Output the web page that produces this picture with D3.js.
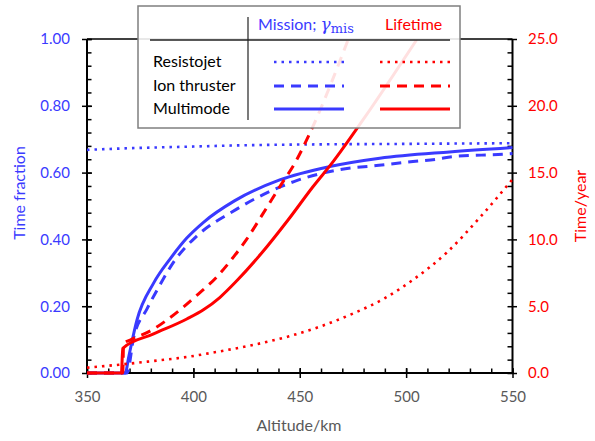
<!DOCTYPE html>
<html><head><meta charset="utf-8">
<script src="https://cdn.jsdelivr.net/npm/d3@7"></script>
<style>body{margin:0;background:#fff}svg{display:block}text{font-family:Lato,"Noto Sans",sans-serif;font-weight:400}</style>
</head><body>
<script>
// ---- data ----
const altMajor = [350, 400, 450, 500, 550];
const fracMajor = [0, 0.2, 0.4, 0.6, 0.8, 1.0];
const yearMajor = [0, 5, 10, 15, 20, 25];

const seriesNames = ["Resistojet", "Ion thruster", "Multimode"];

// Mission time fraction (left axis)
const resMissionAlt = [350, 370, 400, 425, 450, 500, 550];
const resMission    = [0.668, 0.673, 0.678, 0.682, 0.684, 0.686, 0.688];
const ionMissionAlt = [350, 368.8, 371.9, 378.2, 383.7, 390.7, 401.6, 418.1, 432.8, 448.5, 468.8, 486, 503.2, 514.2, 522, 545.5, 550];
const ionMission    = [0, 0, 0.105, 0.192, 0.257, 0.332, 0.410, 0.482, 0.534, 0.576, 0.609, 0.621, 0.633, 0.640, 0.648, 0.655, 0.657];
const mmMissionAlt  = [350, 368, 369.6, 373.5, 381.3, 389, 396.9, 404.9, 419.5, 440.6, 464.1, 487.6, 520.4, 550];
const mmMission     = [0, 0, 0.048, 0.159, 0.269, 0.341, 0.404, 0.452, 0.516, 0.578, 0.618, 0.643, 0.662, 0.675];

// Lifetime in years (right axis)
const resLifeAlt = [350, 365, 380, 397, 410, 428, 445, 460, 475, 490, 503, 519, 535, 550];
const resLife    = [0.4, 0.62, 0.88, 1.2, 1.55, 2.1, 2.75, 3.5, 4.45, 5.6, 6.95, 9.0, 11.7, 14.5];
const ionLifeAlt = [350, 366.8, 367.2, 370.3, 381.3, 387.6, 402.3, 411, 418.1, 425, 432.8, 440.6, 448.5, 454.7, 472.7];
const ionLife    = [0, 0, 2.21, 2.47, 3.29, 3.97, 5.91, 7.19, 8.53, 10.0, 11.95, 13.94, 15.94, 17.94, 24.93];
const mmLifeAlt  = [350, 366.2, 366.8, 381.3, 396.9, 404.9, 412.4, 420.4, 432, 444.5, 456.2, 465.6, 479.7, 504.9];
const mmLife     = [0, 0, 1.85, 2.92, 4.04, 4.75, 5.65, 6.9, 8.96, 11.45, 13.94, 15.8, 18.94, 24.93];

// ---- layout ----
const W = 595, H = 441;
const L = 87, R = 512.5, T = 39, B = 373;
const BLUE = "#3a3aff", RED = "#ff0000", GRAY = "#595959";

const svg = d3.select("body").append("svg").attr("width", W).attr("height", H);

const x = d3.scaleLinear().domain([350, 550]).range([L, R]);
const yL = d3.scaleLinear().domain([0, 1]).range([B, T]);
const yR = d3.scaleLinear().domain([0, 25]).range([B, T]);

const altMinor = d3.range(350, 551, 10);
const fracMinor = d3.range(0, 1.0001, 0.04);
const yearMinor = d3.range(0, 25.001, 1);

function styleAxis(g, color, fs) {
  g.select(".domain").remove();
  g.selectAll(".tick line").attr("stroke", "#000").attr("stroke-width", 1.5);
  g.selectAll(".tick text").attr("fill", color).style("font-size", fs + "px").style("font-family", "Lato").style("font-weight", 400);
}

// x axis
svg.append("g").attr("transform", `translate(0,${B})`)
  .call(d3.axisBottom(x).tickValues(altMinor).tickSize(-4.5).tickFormat(""))
  .call(g => styleAxis(g, GRAY, 15));
svg.append("g").attr("transform", `translate(0,${B})`)
  .call(d3.axisBottom(x).tickValues(altMajor).tickSize(5).tickPadding(13).tickFormat(d3.format("d")))
  .call(g => styleAxis(g, GRAY, 15));
svg.append("g").attr("transform", `translate(0,${B})`)
  .call(d3.axisBottom(x).tickValues(altMajor).tickSize(-5).tickFormat(""))
  .call(g => styleAxis(g, GRAY, 15));

// left axis
svg.append("g").attr("transform", `translate(${L},0)`)
  .call(d3.axisLeft(yL).tickValues(fracMinor).tickSize(-4.5).tickFormat(""))
  .call(g => styleAxis(g, BLUE, 15));
svg.append("g").attr("transform", `translate(${L},0)`)
  .call(d3.axisLeft(yL).tickValues(fracMajor).tickSize(5).tickPadding(12).tickFormat(d3.format(".2f")))
  .call(g => styleAxis(g, BLUE, 15));
svg.append("g").attr("transform", `translate(${L},0)`)
  .call(d3.axisLeft(yL).tickValues(fracMajor).tickSize(-5).tickFormat(""))
  .call(g => styleAxis(g, BLUE, 15));

// right axis
svg.append("g").attr("transform", `translate(${R},0)`)
  .call(d3.axisRight(yR).tickValues(yearMinor).tickSize(-5).tickFormat(""))
  .call(g => styleAxis(g, RED, 15));
svg.append("g").attr("transform", `translate(${R},0)`)
  .call(d3.axisRight(yR).tickValues(yearMajor).tickSize(4.5).tickPadding(11).tickFormat(d3.format(".1f")))
  .call(g => styleAxis(g, RED, 15));

// frame
svg.append("line").attr("x1", L).attr("x2", R).attr("y1", T).attr("y2", T).attr("stroke", "#000").attr("stroke-width", 1.5);
svg.append("line").attr("x1", L).attr("x2", L).attr("y1", T).attr("y2", B + 1).attr("stroke", "#000").attr("stroke-width", 2);
svg.append("line").attr("x1", R).attr("x2", R).attr("y1", T).attr("y2", B + 1).attr("stroke", "#000").attr("stroke-width", 2);
svg.append("line").attr("x1", L - 1).attr("x2", R + 1).attr("y1", B).attr("y2", B).attr("stroke", "#000").attr("stroke-width", 2);

// axis titles
svg.append("text").attr("transform", `translate(25,193) rotate(-90)`).attr("text-anchor", "middle")
  .attr("fill", BLUE).style("font-size", "16px").text("Time fraction");
svg.append("text").attr("transform", `translate(586,206) rotate(-90)`).attr("text-anchor", "middle")
  .attr("fill", RED).style("font-size", "16px").text("Time/year");
svg.append("text").attr("x", 299).attr("y", 431).attr("text-anchor", "middle")
  .attr("fill", GRAY).style("font-size", "16px").text("Altitude/km");

// clip
svg.append("clipPath").attr("id", "clip").append("rect")
  .attr("x", L - 5).attr("y", T).attr("width", R - L + 10).attr("height", B - T + 6);

const DOT = "2.5,5", DASH = "10,7";
const styles = [
  {dash: DOT, w: 2.6},
  {dash: DASH, w: 3},
  {dash: null, w: 3}
];

const plot = svg.append("g").attr("clip-path", "url(#clip)");
function drawLine(alts, vals, yScale, color, st) {
  const line = d3.line().x(d => x(d[0])).y(d => yScale(d[1])).curve(d3.curveMonotoneX);
  const p = plot.append("path").datum(d3.zip(alts, vals)).attr("d", line)
    .attr("fill", "none").attr("stroke", color).attr("stroke-width", st.w);
  if (st.dash) p.attr("stroke-dasharray", st.dash);
}

drawLine(resMissionAlt, resMission, yL, BLUE, styles[0]);
drawLine(ionMissionAlt, ionMission, yL, BLUE, styles[1]);
drawLine(mmMissionAlt, mmMission, yL, BLUE, styles[2]);
drawLine(resLifeAlt, resLife, yR, RED, styles[0]);
drawLine(ionLifeAlt, ionLife, yR, RED, styles[1]);
drawLine(mmLifeAlt, mmLife, yR, RED, styles[2]);

// legend
const lg = svg.append("g");
lg.append("rect").attr("x", 138).attr("y", 6).attr("width", 322).attr("height", 122)
  .attr("fill", "#fff").attr("fill-opacity", 0.88).attr("stroke", "#7f7f7f").attr("stroke-width", 1.5);
lg.append("line").attr("x1", 150).attr("x2", 450).attr("y1", 40).attr("y2", 40).attr("stroke", "#222").attr("stroke-width", 1.3);
lg.append("line").attr("x1", 248).attr("x2", 248).attr("y1", 17).attr("y2", 120).attr("stroke", "#222").attr("stroke-width", 1.2);

const hdr = lg.append("text").attr("x", 258).attr("y", 30).attr("fill", BLUE).style("font-size", "16px");
hdr.append("tspan").text("Mission; ");
hdr.append("tspan").style("font-family", "DejaVu Serif").style("font-style", "italic").style("font-size", "17px").text("γ");
hdr.append("tspan").attr("dy", 3).style("font-family", "DejaVu Serif").style("font-size", "13px").text("mis");
lg.append("text").attr("x", 385).attr("y", 30).attr("fill", RED).style("font-size", "16px").text("Lifetime");

const rowY = [62, 86, 109];
seriesNames.forEach((name, i) => {
  lg.append("text").attr("x", 153).attr("y", rowY[i] + 5).attr("fill", "#000").style("font-size", "16px").text(name);
  [[274, 344, BLUE], [380, 450, RED]].forEach(([a, b, c]) => {
    const l = lg.append("line").attr("x1", a).attr("x2", b).attr("y1", rowY[i]).attr("y2", rowY[i])
      .attr("stroke", c).attr("stroke-width", styles[i].w);
    if (styles[i].dash) l.attr("stroke-dasharray", styles[i].dash);
  });
});
</script>
</body></html>
